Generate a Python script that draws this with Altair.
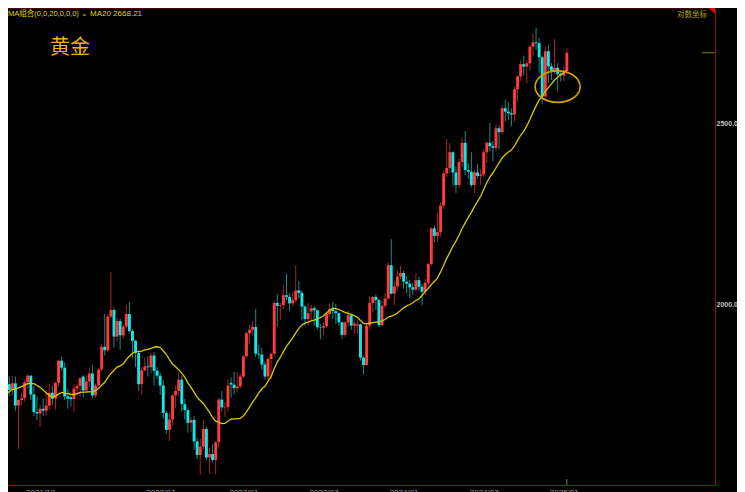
import altair as alt
import pandas as pd

# ---------------- data (weekly candles, COMEX gold weighted) ----------------
week_start = "2021-03-01"

opens = [1733,1698,1719,1741,1732,1728,1744,1780,1777,1768,1831,1838,1876,1903,1892,1879,1764,1781,1784,1810,
         1815,1802,1817,1768,1780,1784,1819,1834,1792,1754,1751,1761,1757,1768,1796,1783,1818,1868,1852,1788,
         1786,1782,1805,1811,1832,1801,1821,1839,1790,1812,1848,1900,1892,1972,1988,1924,1961,1927,1948,1978,
         1937,1914,1886,1815,1846,1855,1853,1880,1845,1834,1812,1752,1716,1738,1790,1800,1825,1771,1758,1731,
         1737,1692,1664,1681,1718,1659,1666,1654,1690,1781,1764,1765,1818,1814,1806,1810,1832,1878,1932,1940,
         1947,1884,1882,1859,1832,1872,1884,2005,1998,2000,2024,2020,2004,2012,2036,2030,1996,1966,1984,1992,
         1987,1946,1945,1949,1978,1990,1985,1980,1958,1928,1958,1975,1950,1950,1953,1875,1858,1950,2005,2020,
         2012,1951,1998,2016,2100,2028,2046,2071,2080,2058,2053,2044,2038,2062,2045,2033,2055,2103,2197,2177,
         2187,2259,2350,2366,2412,2353,2317,2383,2440,2360,2355,2317,2353,2343,2347,2412,2440,2430,2425,2484,
         2472,2546,2535,2530,2526,2605,2647,2687,2679,2690,2745,2760,2757,2710,2583,2730,2680,2665,2675,2655,
         2650,2665]
highs = [1740,1740,1755,1756,1741,1760,1785,1797,1790,1837,1846,1890,1912,1917,1903,1880,1795,1790,1818,1834,
         1833,1833,1832,1782,1796,1824,1837,1835,1810,1788,1770,1784,1801,1815,1812,1820,1870,1877,1864,1804,
         1794,1816,1816,1831,1835,1835,1852,1858,1817,1850,1906,1978,1978,2082,1993,1969,1966,1952,2001,2007,
         1942,1916,1893,1854,1875,1878,1885,1888,1853,1840,1824,1756,1752,1794,1812,1842,1834,1783,1762,1743,
         1745,1699,1697,1738,1723,1679,1686,1693,1785,1800,1775,1825,1830,1843,1842,1838,1880,1935,1952,1962,
         1990,1905,1898,1866,1876,1886,2010,2026,2005,2051,2079,2030,2032,2100,2060,2036,2000,2004,2001,1998,
         1989,1954,1958,1983,2005,2008,2003,1982,1960,1960,1986,1978,1962,1963,1955,1878,1955,2022,2022,2026,
         2015,2010,2030,2108,2168,2060,2086,2098,2086,2072,2062,2055,2080,2070,2052,2065,2106,2200,2205,2240,
         2268,2358,2452,2440,2415,2370,2392,2455,2475,2380,2412,2358,2378,2362,2420,2445,2500,2445,2495,2492,
         2555,2572,2565,2545,2615,2650,2700,2715,2700,2750,2790,2810,2775,2715,2745,2750,2690,2770,2690,2665,
         2680,2740]
lows = [1687,1676,1718,1719,1678,1722,1731,1762,1756,1765,1808,1836,1872,1856,1865,1761,1761,1750,1780,1797,
        1789,1790,1757,1677,1769,1777,1805,1780,1745,1737,1722,1746,1746,1760,1770,1759,1810,1846,1780,1761,
        1766,1753,1787,1788,1786,1800,1809,1785,1784,1811,1844,1880,1888,1968,1898,1913,1893,1918,1943,1934,
        1875,1853,1800,1791,1844,1832,1839,1812,1827,1791,1740,1708,1693,1726,1763,1788,1756,1738,1710,1712,
        1675,1655,1624,1675,1653,1627,1649,1625,1678,1755,1744,1755,1785,1792,1797,1805,1828,1874,1908,1928,
        1876,1872,1847,1825,1821,1826,1880,1948,1964,1990,2012,1985,1996,2005,2016,1962,1950,1950,1963,1950,
        1940,1918,1928,1944,1970,1965,1955,1950,1918,1924,1948,1940,1930,1930,1868,1836,1856,1940,1982,1988,
        1946,1948,1992,2014,2026,1999,2036,2064,2040,2030,2017,2025,2033,2036,2000,2025,2044,2098,2160,2160,
        2175,2250,2340,2350,2315,2295,2308,2370,2345,2335,2310,2295,2335,2318,2340,2380,2415,2385,2415,2420,
        2465,2505,2510,2490,2505,2565,2632,2650,2625,2665,2715,2735,2660,2560,2575,2625,2635,2655,2600,2630,
        2630,2655]
closes = [1698,1719,1741,1732,1728,1744,1780,1777,1768,1831,1838,1876,1903,1892,1879,1764,1781,1784,1810,1815,
          1802,1817,1768,1780,1784,1819,1834,1792,1754,1751,1761,1757,1768,1796,1783,1818,1868,1852,1788,1783,
          1782,1805,1811,1828,1801,1821,1839,1790,1812,1848,1900,1892,1972,1988,1924,1961,1927,1948,1978,1937,
          1914,1886,1815,1846,1855,1853,1880,1845,1834,1812,1752,1716,1738,1790,1800,1825,1771,1758,1731,1737,
          1692,1664,1681,1718,1659,1666,1654,1690,1781,1764,1765,1812,1814,1806,1810,1832,1878,1932,1940,1947,
          1884,1882,1859,1832,1872,1884,2005,1998,2000,2024,2020,2004,2012,2036,2030,1996,1966,1980,1992,1987,
          1946,1945,1949,1978,1990,1985,1980,1958,1928,1958,1975,1950,1955,1953,1875,1858,1950,2005,2020,2012,
          1951,1998,2016,2100,2028,2046,2071,2080,2058,2053,2044,2038,2062,2045,2033,2055,2103,2197,2177,2187,
          2259,2350,2366,2412,2353,2317,2383,2440,2360,2355,2317,2353,2343,2347,2412,2440,2430,2425,2484,2472,
          2546,2535,2530,2526,2605,2647,2687,2679,2690,2745,2760,2757,2710,2583,2730,2680,2665,2675,2655,2650,
          2665,2725]

tick_weeks = [30, 69, 96, 122, 148, 174, 200]
tick_labels = ["2021/10", "2022/07", "2023/01", "2023/07", "2024/01", "2024/07", "2025/01"]
price_ticks = [2000, 2500]
ma_window = 20
highlight_week = [198]
highlight_price = [2614]

title_text = ["黄金"]
ma_header = ["MA组合(0,0,20,0,0,0) ⌄"]
ma_value = ["MA20 2668.21"]
scale_note = ["对数坐标"]

# ---------------- style ----------------
UP = "#ff3b3b"
DOWN = "#14e6e6"
UP_WICK = "#a82424"
DOWN_WICK = "#178c8c"
MA_COLOR = "#d8c800"
FRAME = "#8e1010"
W, H = 707, 477
PX_PER_WEEK = 3.125
X_START = 21.22

n = len(closes)
df = pd.DataFrame({
    "w": list(range(n)),
    "date": pd.date_range(week_start, periods=n, freq="7D").strftime("%Y-%m-%d"),
    "open": opens, "high": highs, "low": lows, "close": closes,
})

x_scale = alt.Scale(domain=[X_START, X_START + W / PX_PER_WEEK], nice=False, zero=False)
y_scale = alt.Scale(type="log", domain=[1603.9, 2878.6], nice=False, zero=False)

label_expr = " : ".join(f"datum.value == {w} ? '{t}'" for w, t in zip(tick_weeks, tick_labels)) + " : ''"

x_axis = alt.Axis(values=tick_weeks, labelExpr=label_expr, title=None, grid=False, ticks=False,
                  domainColor=FRAME, labelColor="#9a9a9a", labelFontSize=8, labelPadding=3,
                  labelFont="Liberation Sans", labelOverlap=False, labelFlush=False)
y_axis = alt.Axis(orient="right", values=price_ticks, format=".1f", title=None, grid=False, ticks=False,
                  domainColor=FRAME, labelColor="#c4c4c4", labelFontSize=7, labelFontWeight="bold",
                  labelPadding=1, labelFont="Liberation Sans", labelFlush=False)


def X(field="w"):
    return alt.X(f"{field}:Q", scale=x_scale, axis=x_axis, title=None)


def Y(field):
    return alt.Y(f"{field}:Q", scale=y_scale, axis=y_axis, title=None)


up_cond = "datum.close >= datum.open"
base = alt.Chart(df)

wicks = base.mark_rule(strokeWidth=1, clip=True).encode(
    x=X(), y=Y("low"), y2="high:Q",
    color=alt.condition(up_cond, alt.value(UP_WICK), alt.value(DOWN_WICK)),
)

bodies = base.mark_bar(size=2.9, clip=True).encode(
    x=X(), y=Y("open"), y2="close:Q",
    color=alt.condition(up_cond, alt.value(UP), alt.value(DOWN)),
)

ma = base.transform_window(
    ma="mean(close)", frame=[-(ma_window - 1), 0], sort=[alt.SortField("w")]
).transform_filter(
    alt.datum.w >= ma_window - 1
).mark_line(color=MA_COLOR, strokeWidth=1.3, clip=True).encode(
    x=X(), y=Y("ma"),
)

ellipse_path = "M -1 0 A 1 0.7 0 1 0 1 0 A 1 0.7 0 1 0 -1 0 Z"
ellipse = alt.Chart(pd.DataFrame({"w": highlight_week, "p": highlight_price})).mark_point(
    shape=ellipse_path, size=2025, filled=False, color="#d9a000", strokeWidth=1.6, opacity=1
).encode(x=X(), y=Y("p"))

last_price = alt.Chart(pd.DataFrame({"p": [closes[-1]]})).mark_rule(color="#7a7a1c", strokeWidth=1).encode(
    y=Y("p"), x=alt.value(W - 13), x2=alt.value(W)
)

cur_bar = alt.Chart(pd.DataFrame({"w": [n - 1]})).mark_rule(color="#777777", strokeWidth=1).encode(
    x=X(), y=alt.value(H - 6), y2=alt.value(H)
)

top_border = alt.Chart(pd.DataFrame({"a": [0]})).mark_rule(color=FRAME, strokeWidth=1).encode(
    x=alt.value(0), x2=alt.value(W), y=alt.value(0)
)

corner = alt.Chart(pd.DataFrame({"a": [0]})).mark_point(
    shape="M -1 -1 L 1 -1 L 1 1 Z", size=36, filled=True, color="#e01010", opacity=1
).encode(x=alt.value(W - 3), y=alt.value(3))

title = alt.Chart(pd.DataFrame({"t": title_text})).mark_text(
    font="Noto Sans CJK SC", fontSize=20, color="#f2b400", align="left", baseline="middle"
).encode(text="t:N", x=alt.value(42), y=alt.value(40))

ma_head = alt.Chart(pd.DataFrame({"t": ma_header})).mark_text(
    font="Liberation Sans, Noto Sans CJK SC", fontSize=7.5, color="#e0cf00", align="left", baseline="middle"
).encode(text="t:N", x=alt.value(0), y=alt.value(6))

ma_val = alt.Chart(pd.DataFrame({"t": ma_value})).mark_text(
    font="Liberation Sans", fontSize=8, color="#e0cf00", align="left", baseline="middle"
).encode(text="t:N", x=alt.value(82), y=alt.value(6))

note = alt.Chart(pd.DataFrame({"t": scale_note})).mark_text(
    font="Noto Sans CJK SC", fontSize=7.5, color="#b4a400", align="right", baseline="middle"
).encode(text="t:N", x=alt.value(W - 8), y=alt.value(7))

chart = alt.layer(
    wicks, bodies, ma, ellipse, last_price, cur_bar, top_border, corner, title, ma_head, ma_val, note
).properties(
    width=W, height=H,
    background="#000000",
    padding={"left": 0, "top": 0, "right": 22, "bottom": 8},
    autosize=alt.AutoSizeParams(type="none"),
).configure_view(stroke=None)

chart.save("out.html", embed_options={"renderer": "svg", "actions": False})
